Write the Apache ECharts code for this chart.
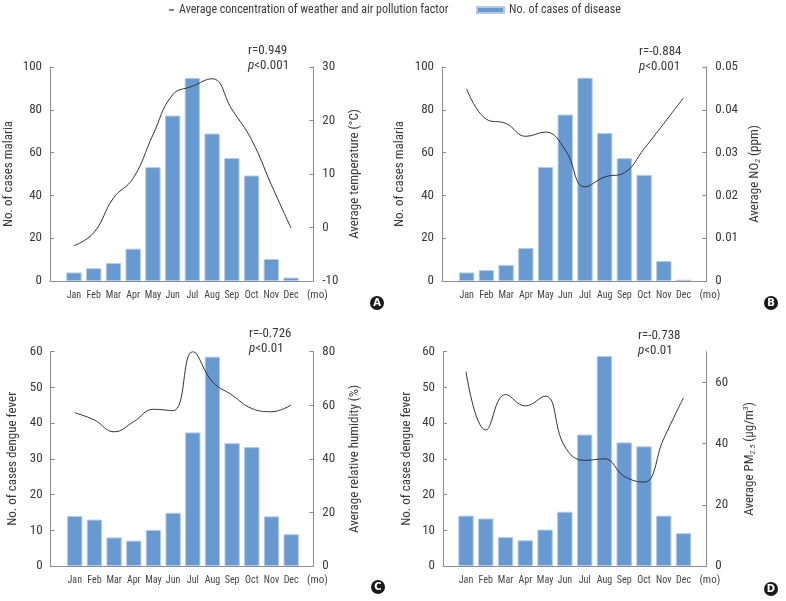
<!DOCTYPE html>
<html><head><meta charset="utf-8">
<script src="https://cdn.jsdelivr.net/npm/echarts@6/dist/echarts.min.js"></script>
<style>html,body{margin:0;padding:0;background:#fff}#c{width:786px;height:601px}</style>
</head><body><div id="c"></div>
<script>
// ---------- data ----------
const months = ['Jan','Feb','Mar','Apr','May','Jun','Jul','Aug','Sep','Oct','Nov','Dec'];
const malariaCasesA = [4, 6, 8.4, 15.1, 53.2, 77.3, 94.9, 68.9, 57.5, 49.3, 10.3, 1.6];
const temperature   = [-3.4, -1.0, 5.5, 9.2, 17.3, 24.8, 26.4, 27.8, 22.1, 16.4, 8.0, -0.1];
const malariaCasesB = [4, 5.1, 7.5, 15.4, 53.3, 77.8, 95, 69.2, 57.4, 49.6, 9.3, 0.6];
const no2           = [0.0449, 0.0378, 0.0368, 0.0338, 0.0348, 0.0306, 0.0220, 0.0243, 0.0253, 0.0309, 0.0368, 0.0428];
const dengueCasesC  = [14, 13, 8, 7.1, 10.1, 14.9, 37.4, 58.6, 34.4, 33.3, 13.9, 8.9];
const humidity      = [57.2, 54.5, 50.1, 53.9, 58.5, 58.0, 80, 68.8, 63.8, 58.8, 57.6, 60.1];
const dengueCasesD  = [14.1, 13.3, 8.1, 7.2, 10.2, 15.2, 36.8, 58.8, 34.6, 33.5, 14.1, 9.2];
const pm25          = [63.5, 44.4, 56.0, 52.3, 55.5, 39.0, 34.5, 35.0, 29.3, 27.4, 41.6, 55.0];
const ticksA_left = [0, 100, 20], ticksA_right = [-10, 30, 10];
const ticksB_left = [0, 100, 20], ticksB_right = [0, 0.05, 0.01];
const ticksC_left = [0, 60, 10],  ticksC_right = [0, 80, 20];
const ticksD_left = [0, 60, 10],  ticksD_right = [0, 70, 20];
const statsR = ['r=0.949', 'r=-0.884', 'r=-0.726', 'r=-0.738'];
const statsP = ['<0.001', '<0.001', '<0.01', '<0.01'];
const leftNames = ['No. of cases malaria', 'No. of cases malaria', 'No. of cases dengue fever', 'No. of cases dengue fever'];
const rightNames = ['Average temperature (°C)', '{a|Average NO}{s|2}{a| (ppm)}', 'Average relative humidity (%)', '{a|Average PM}{s|2.5}{a| (μg/m}{u|3}{a|)}'];
const letters = ['A', 'B', 'C', 'D'];
const lineName = 'Average concentration of weather and air pollution factor';
const barName = 'No. of cases of disease';

// ---------- layout ----------
const FONT = "'Liberation Sans Narrow','Roboto Condensed','DejaVu Sans Condensed',sans-serif";
const AX = '#8c8c8c', TXT = '#3a3a3a', BAR = '#6899d0';
const panels = [
  {outer:[50,313.3], inner:[64.1,300.9], top:67, bottom:281, bars:malariaCasesA, line:temperature, yl:ticksA_left, yr:ticksA_right, lgap:35, rgap:35, stat:[248,43.5], letter:[377,303]},
  {outer:[442,706.3], inner:[456.8,693.4], top:67, bottom:281, bars:malariaCasesB, line:no2, yl:ticksB_left, yr:ticksB_right, lgap:36, rgap:40, stat:[639,44], letter:[771,303], rfmt:v => v === 0 ? '0' : v.toFixed(2)},
  {outer:[50.7,313.3], inner:[64.9,301.0], top:351.7, bottom:566, bars:dengueCasesC, line:humidity, yl:ticksC_left, yr:ticksC_right, lgap:31, rgap:35, stat:[249,326.5], letter:[378,587]},
  {outer:[443,706.3], inner:[456.1,693.4], top:351.7, bottom:566, bars:dengueCasesD, line:pm25, yl:ticksD_left, yr:ticksD_right, lgap:30, rgap:35, stat:[638,328], letter:[771,589], rcustom:[0,20,40,60]}
];

const grid = [], xAxis = [], yAxis = [], series = [], title = [], graphic = [];
const nameStyle = {fontSize:13, color:TXT, fontFamily:FONT,
  rich:{a:{fontSize:13, color:TXT, fontFamily:FONT, lineHeight:16},
        s:{fontSize:8, color:TXT, fontFamily:FONT, fontStyle:'italic', padding:[7,0,0,0]},
        u:{fontSize:8, color:TXT, fontFamily:FONT, padding:[0,0,7,0]}}};

panels.forEach((p, k) => {
  const h = p.bottom - p.top;
  grid.push({left:p.outer[0], width:p.outer[1]-p.outer[0], top:p.top, height:h});
  grid.push({left:p.inner[0], width:p.inner[1]-p.inner[0], top:p.top, height:h});
  xAxis.push({gridIndex:2*k, type:'value', min:0, max:1, axisLine:{show:true, lineStyle:{color:AX}},
    axisTick:{show:false}, axisLabel:{show:false}, splitLine:{show:false}});
  xAxis.push({gridIndex:2*k+1, type:'category', data:months, boundaryGap:true,
    axisLine:{show:false}, axisTick:{show:false},
    axisLabel:{interval:0, fontSize:10, color:'#444', margin:9, fontFamily:FONT},
    name:'(mo)', nameLocation:'end', nameGap:6,
    nameTextStyle:{fontSize:11, color:'#444', fontFamily:FONT, verticalAlign:'top', padding:[9,0,0,0]}});
  const tickCfg = {show:true, inside:true, length:4, lineStyle:{color:AX}};
  yAxis.push({gridIndex:2*k, type:'value', position:'left', min:p.yl[0], max:p.yl[1], interval:p.yl[2],
    axisLine:{show:true, lineStyle:{color:AX}}, axisTick:tickCfg, splitLine:{show:false},
    axisLabel:{fontSize:13, color:TXT, margin:8, fontFamily:FONT},
    name:leftNames[k], nameLocation:'middle', nameRotate:90, nameGap:p.lgap, nameTextStyle:nameStyle});
  const right = {gridIndex:2*k, type:'value', position:'right', min:p.yr[0], max:p.yr[1], interval:p.yr[2],
    axisLine:{show:true, lineStyle:{color:AX}}, axisTick:Object.assign({}, tickCfg), splitLine:{show:false},
    axisLabel:{fontSize:13, color:TXT, margin:9, fontFamily:FONT},
    name:rightNames[k], nameLocation:'middle', nameRotate:90, nameGap:p.rgap, nameTextStyle:nameStyle};
  if (p.rfmt) right.axisLabel.formatter = p.rfmt;
  if (p.rcustom) { right.axisLabel.customValues = p.rcustom; right.axisTick.customValues = p.rcustom; }
  yAxis.push(right);
  yAxis.push({gridIndex:2*k+1, type:'value', min:p.yl[0], max:p.yl[1], show:false});
  yAxis.push({gridIndex:2*k+1, type:'value', min:p.yr[0], max:p.yr[1], show:false});
  series.push({type:'bar', name:barName, xAxisIndex:2*k+1, yAxisIndex:4*k+2, data:p.bars,
    barCategoryGap:'22%', itemStyle:{color:BAR, borderColor:'#b3cbe9', borderWidth:1}, z:2});
  series.push({type:'line', name:lineName, xAxisIndex:2*k+1, yAxisIndex:4*k+3, data:p.line,
    smooth:0.45, symbol:'none', showSymbol:false, lineStyle:{color:'#333', width:1}, itemStyle:{color:'#333'}, z:3});
  title.push({left:p.stat[0], top:p.stat[1], padding:0,
    text:'{r|' + statsR[k] + '}\n{i|p}{r|' + statsP[k] + '}',
    textStyle:{fontWeight:'normal', rich:{
      r:{fontSize:13, fontWeight:'normal', color:TXT, fontFamily:FONT, lineHeight:15},
      i:{fontSize:13, fontWeight:'normal', color:TXT, fontFamily:FONT, fontStyle:'italic', lineHeight:15}}}});
  graphic.push({type:'group', x:p.letter[0], y:p.letter[1], children:[
    {type:'circle', shape:{cx:0, cy:0, r:7}, style:{fill:'#1a1a1a'}},
    {type:'text', style:{text:letters[k], x:0, y:0.5, fill:'#fff', font:'bold 10px "DejaVu Sans", sans-serif', align:'center', verticalAlign:'middle'}}
  ]});
});

const chart = echarts.init(document.getElementById('c'), null, {renderer:'canvas'});
chart.setOption({
  animation:false,
  backgroundColor:'#fff',
  legend:[
    {data:[{name:lineName, icon:'rect', itemStyle:{color:'#333'}}], left:169, top:4, padding:0, itemWidth:5, itemHeight:1.2,
     selectedMode:false, textStyle:{fontSize:12, color:TXT, fontFamily:FONT}},
    {data:[{name:barName, icon:'rect', itemStyle:{color:BAR}}], left:476, top:4, padding:0, itemWidth:27, itemHeight:6,
     selectedMode:false, textStyle:{fontSize:12, color:TXT, fontFamily:FONT}}
  ],
  title, grid, xAxis, yAxis, series, graphic
});
</script></body></html>
